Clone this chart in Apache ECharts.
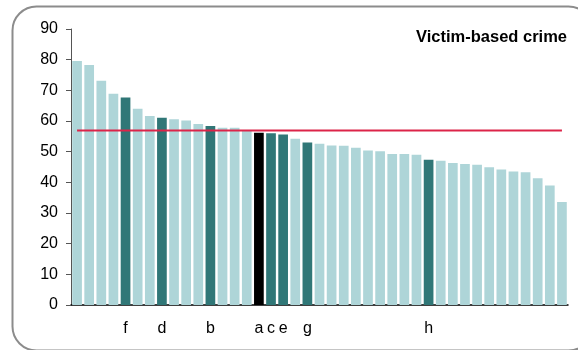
<!DOCTYPE html>
<html>
<head>
<meta charset="utf-8">
<script src="https://cdn.jsdelivr.net/npm/echarts@6/dist/echarts.min.js"></script>
<style>
  html, body { margin: 0; padding: 0; background: #fff; }
  #chart { width: 578px; height: 350px; }
</style>
</head>
<body>
<div id="chart"></div>
<script>
// 41 areas, sorted high to low; only a few carry a label
var categories = [
  '', '', '', '', 'f', '', '', 'd', '', '', '', 'b', '', '', '',
  'a', 'c', 'e', '', 'g', '', '', '', '', '', '', '', '', '', 'h',
  '', '', '', '', '', '', '', '', '', '', ''
];
var values = [
  79.6, 78.3, 73.1, 68.9, 67.7, 64.0, 61.6, 61.1, 60.6, 60.2, 59.0, 58.4, 57.8, 57.8, 57.1,
  56.2, 56.0, 55.6, 54.2, 53.0, 52.6, 52.0, 51.9, 51.3, 50.4, 50.1, 49.2, 49.2, 49.0, 47.4,
  47.0, 46.3, 46.0, 45.7, 44.9, 44.2, 43.5, 43.3, 41.3, 39.0, 33.6
];
// bar kind: 0 = other, 1 = highlighted, 2 = own area
var kinds = [
  0, 0, 0, 0, 1, 0, 0, 1, 0, 0, 0, 1, 0, 0, 0,
  2, 1, 1, 0, 1, 0, 0, 0, 0, 0, 0, 0, 0, 0, 1,
  0, 0, 0, 0, 0, 0, 0, 0, 0, 0, 0
];
var average = 56.9;
var yTicks = [0, 10, 20, 30, 40, 50, 60, 70, 80, 90];

var kindColors = ['#aed5d8', '#307777', '#000000'];

var chart = echarts.init(document.getElementById('chart'));

var barData = values.map(function (v, i) {
  return { value: v, itemStyle: { color: kindColors[kinds[i]] } };
});
var lineData = values.map(function () { return average; });

chart.setOption({
  animation: false,
  textStyle: { fontFamily: 'Liberation Sans, Arial, sans-serif' },
  graphic: [{
    type: 'rect',
    left: 10,
    top: 4,
    shape: { width: 580, height: 344, r: 24 },
    style: { fill: 'none', stroke: '#8c8c8c', lineWidth: 2 },
    z: -1
  }],
  title: {
    text: 'Victim-based crime',
    right: 6,
    top: 24,
    textStyle: { fontSize: 16.5, fontWeight: 'bold', color: '#000' }
  },
  grid: { left: 71, right: 10, top: 29, bottom: 45 },
  xAxis: {
    type: 'category',
    data: categories,
    axisLine: { lineStyle: { color: '#000', width: 1.5 } },
    axisTick: { show: false },
    axisLabel: { interval: 0, color: '#000', fontSize: 16, margin: 16 }
  },
  yAxis: {
    type: 'value',
    min: yTicks[0],
    max: yTicks[yTicks.length - 1],
    interval: 10,
    splitLine: { show: false },
    axisLine: { show: true, lineStyle: { color: '#555', width: 1 } },
    axisTick: { show: true, length: 5, inside: false, lineStyle: { color: '#555' } },
    axisLabel: { color: '#000', fontSize: 16, margin: 13 }
  },
  series: [{
    type: 'bar',
    data: barData,
    barCategoryGap: '20%'
  }, {
    type: 'line',
    data: lineData,
    symbol: 'none',
    lineStyle: { color: '#dc2449', width: 2 },
    z: 5
  }]
});
</script>
</body>
</html>
